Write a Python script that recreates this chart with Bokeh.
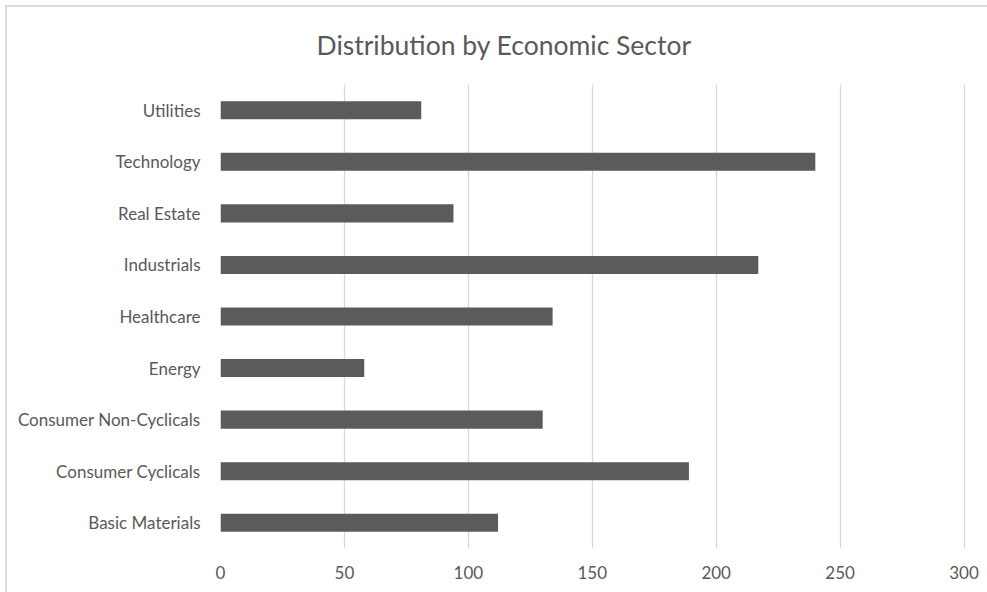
from bokeh.plotting import figure
from bokeh.models import FactorRange, Range1d, FixedTicker, ColumnDataSource
from bokeh.embed import file_html
from bokeh.resources import INLINE

title = "Distribution by Economic Sector"
sectors = ["Basic Materials", "Consumer Cyclicals", "Consumer Non-Cyclicals", "Energy",
           "Healthcare", "Industrials", "Real Estate", "Technology", "Utilities"]
counts = [112, 189, 130, 58, 134, 217, 94, 240, 81]
x_ticks = [0, 50, 100, 150, 200, 250, 300]

FONT = "Lato"
TXT = "#595959"

src = ColumnDataSource(dict(sector=sectors, count=counts))

p = figure(width=987, height=592, output_backend="svg", toolbar_location=None,
           y_range=FactorRange(*sectors, range_padding=0), x_range=Range1d(0, 300.6),
           min_border_left=220, min_border_right=22, min_border_top=84, min_border_bottom=44)

p.hbar(y="sector", right="count", left=0, height=0.35, source=src,
       fill_color="#5b5b5b", line_color=None)

p.title.text = title
p.title.align = "left"
p.title.offset = 96
p.title.text_font = FONT
p.title.text_font_size = "26.5px"
p.title.text_font_style = "normal"
p.title.text_color = TXT
p.title.standoff = 48

p.outline_line_color = None
p.background_fill_color = "white"
p.border_fill_color = None
p.styles = {
    "background": "linear-gradient(#dcdcdc,#dcdcdc) 5px 5px / 2px 100% no-repeat, "
                  "linear-gradient(#dcdcdc,#dcdcdc) 5px 5px / 100% 2px no-repeat, white"
}

p.xgrid.ticker = FixedTicker(ticks=x_ticks)
p.xaxis.ticker = FixedTicker(ticks=x_ticks)
p.xgrid.grid_line_color = "#d9d9d9"
p.xgrid.grid_line_width = 1.3
p.ygrid.grid_line_color = None

for ax in (p.xaxis, p.yaxis):
    ax.axis_line_color = None
    ax.major_tick_line_color = None
    ax.minor_tick_line_color = None
    ax.major_label_text_font = FONT
    ax.major_label_text_font_size = "17px"
    ax.major_label_text_color = TXT

p.xaxis.major_label_standoff = 11
p.yaxis.major_label_standoff = 14

open("out.html", "w").write(file_html(p, INLINE))
